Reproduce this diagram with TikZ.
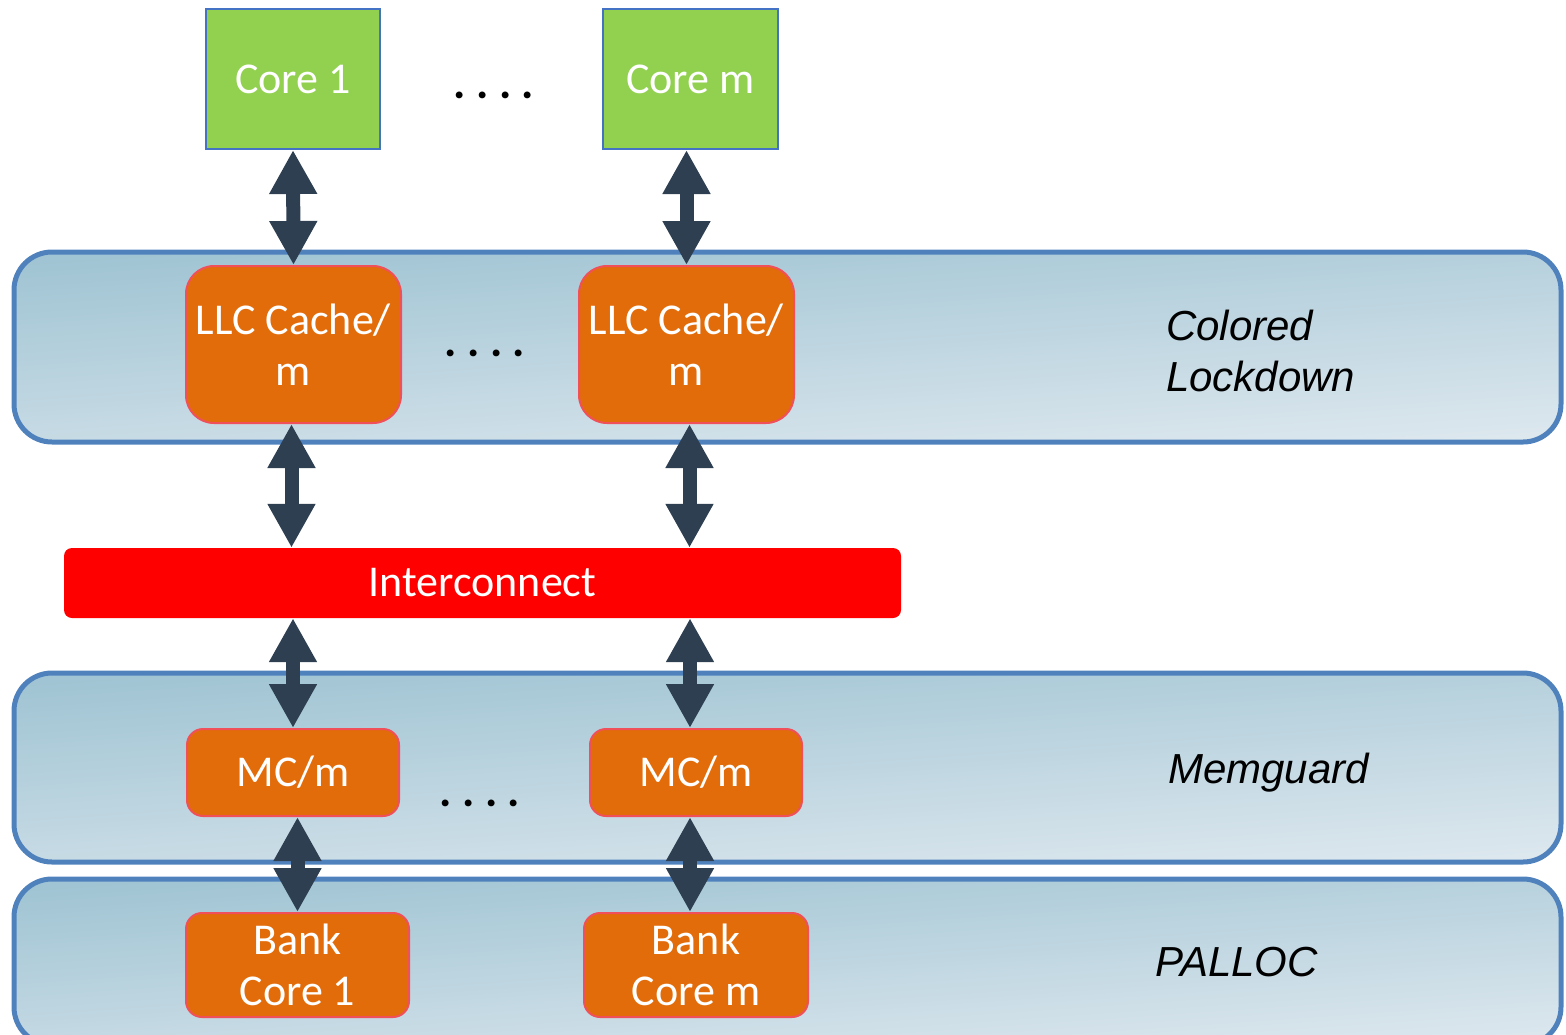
\documentclass[tikz,border=0pt]{standalone}
\usepackage{fontspec}
\setmainfont{Carlito}
\newfontfamily\labelfont{Liberation Sans}
\usetikzlibrary{arrows.meta}
\definecolor{coregreen}{RGB}{146,208,80}
\definecolor{coreborder}{RGB}{68,114,196}
\definecolor{boxorange}{RGB}{227,108,10}
\definecolor{boxborder}{RGB}{240,80,90}
\definecolor{bandborder}{RGB}{79,129,189}
\definecolor{bandtop}{RGB}{160,196,211}
\definecolor{bandbot}{RGB}{220,231,238}
\definecolor{arrowc}{RGB}{46,63,82}
\definecolor{icred}{RGB}{255,0,0}
\begin{document}
\begin{tikzpicture}[x=1pt,y=-1pt,
  boxtext/.style={font=\fontsize{44}{51}\selectfont, text=white, align=center, inner sep=0pt},
  core/.style={boxtext, draw=coreborder, line width=2pt, fill=coregreen},
  obox/.style={boxtext, draw=boxborder, line width=2pt, fill=boxorange, rounded corners=28pt},
  sbox/.style={boxtext, draw=boxborder, line width=2pt, fill=boxorange, rounded corners=16pt},
  band/.style={draw=bandborder, line width=5pt, rounded corners=38pt, top color=bandtop, bottom color=bandbot, shading angle=4, inner sep=0pt, minimum width=1547pt},
  layerlabel/.style={font=\labelfont\itshape\fontsize{42}{51}\selectfont, align=left, anchor=west, inner sep=0pt},
  dotsl/.style={font=\bfseries\fontsize{46}{50}\selectfont, anchor=base, inner sep=0pt},
  dbl/.style={draw=arrowc, line width=14pt, {Triangle[width=45pt,length=44pt]}-{Triangle[width=45pt,length=44pt]}}
]
\useasboundingbox (0,0) rectangle (1566,1034);
\clip (0,0) rectangle (1566,1034);
% layer bands
\node[band, minimum height=190pt] (band1) at (787.5,347) {};
\node[band, minimum height=189pt] (band2) at (787.5,767.5) {};
\node[band, minimum height=166pt] (band3) at (787.5,962) {};
% cores
\node[core, minimum width=174pt, minimum height=140pt] (core1) at (293,79) {Core 1};
\node[core, minimum width=175pt, minimum height=140pt] (corem) at (690.5,79) {Core m};
\node[dotsl] (dots1) at (494,98) {.\ .\ .\ .};
% LLC
\node[obox, minimum width=215pt, minimum height=157pt] (llc1) at (293.5,344.5) {LLC Cache/\\m};
\node[obox, minimum width=215pt, minimum height=157pt] (llcm) at (686.5,344.5) {LLC Cache/\\m};
\node[dotsl] (dots2) at (485,356) {.\ .\ .\ .};
\node[layerlabel] (lbl1) at (1166,351) {Colored\\Lockdown};
% interconnect
\node[boxtext, fill=icred, rounded corners=8pt, minimum width=837pt, minimum height=70pt] (ic) at (482.5,583) {Interconnect};
% MC
\node[sbox, minimum width=212pt, minimum height=87pt] (mc1) at (293,772.5) {MC/m};
\node[sbox, minimum width=212pt, minimum height=87pt] (mcm) at (696,772.5) {MC/m};
\node[dotsl] (dots3) at (480,806) {.\ .\ .\ .};
\node[layerlabel] (lbl2) at (1168,773) {Memguard};
% banks
\node[sbox, minimum width=223pt, minimum height=104pt] (bank1) at (297.5,965) {Bank\\Core 1};
\node[sbox, minimum width=224pt, minimum height=104pt] (bankm) at (696,965) {Bank\\Core m};
\node[layerlabel] (lbl3) at (1155,962) {PALLOC};
% arrows
\draw[dbl] (core1.south) -- (llc1.north);
\draw[dbl] (llcm.north |- corem.south) -- (llcm.north);
\draw[dbl] ([xshift=-2pt]llc1.south) -- ([xshift=-2pt]llc1.south |- ic.north);
\draw[dbl] ([xshift=3pt]llcm.south) -- ([xshift=3pt]llcm.south |- ic.north);
\draw[dbl] (mc1.north |- ic.south) -- (mc1.north);
\draw[dbl] ([xshift=-6pt]mcm.north |- ic.south) -- ([xshift=-6pt]mcm.north);
\draw[dbl] (bank1.north |- mc1.south) -- (bank1.north);
\draw[dbl] ([xshift=-6pt]bankm.north |- mcm.south) -- ([xshift=-6pt]bankm.north);
\end{tikzpicture}
\end{document}
